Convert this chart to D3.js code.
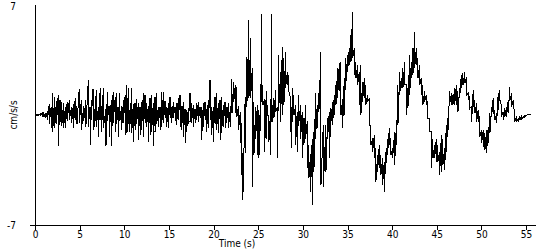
<!DOCTYPE html>
<html>
<head>
<meta charset="utf-8">
<script src="https://cdn.jsdelivr.net/npm/d3@7"></script>
<style>
  body { margin: 0; background: #fff; }
  svg { display: block; }
  text { font-family: "DejaVu Sans Condensed", "DejaVu Sans", sans-serif; font-size: 10px; fill: #000; }
  .trace { fill: none; stroke: #000; stroke-width: 1; shape-rendering: crispEdges; }
  .axis-line { stroke: #000; stroke-width: 1; shape-rendering: crispEdges; }
</style>
</head>
<body>
<svg></svg>
<script>
// trace: [time (s), upper swing, lower swing] in cm/s/s
var preEvent = [
  [0.0, 0, 0], [0.2, 0.02, -0.02], [0.4, 0.03, -0.03], [0.6, 0.05, -0.05], [0.8, 0.1, -0.1],
  [1.0, 0.2, -0.15], [1.2, 0.15, -0.2], [1.4, 0.25, -0.3], [1.6, 0.7, -0.57], [1.8, 0.5, -0.8],
  [1.98, 1.38, -1.06], [2.2, 1.17, -0.85], [2.4, 0.9, -0.6], [2.6, 1.27, -2.0], [2.8, 0.95, -0.42],
  [3.0, 0.8, -0.7], [3.2, 0.74, -0.85], [3.4, 0.5, -0.85], [3.6, 0.85, -0.4], [3.84, 0.95, -0.3],
  [4.1, 0.5, -0.53], [4.3, 0.7, -0.85], [4.5, 1.06, -0.32], [4.7, 0.6, -0.6], [4.95, 1.65, -0.53],
  [5.2, 0.95, -0.96], [5.45, 0.6, -0.4], [5.7, 0.95, -0.74], [5.97, 2.23, -0.74], [6.16, 0.5, -1.91],
  [6.3, 0.95, -0.3], [6.5, 1.67, -0.96], [6.7, 0.4, -0.74], [6.86, 1.59, -0.74], [7.1, 0.5, -1.38],
  [7.3, 1.7, -0.3], [7.45, 0.6, -1.06], [7.65, 1.7, -0.85], [7.95, 0.4, -2.0], [8.1, 1.49, -0.4],
  [8.3, 0.6, -1.38], [8.55, 0.95, -2.0], [8.75, 1.49, -0.5], [9.0, 1.17, -1.06], [9.15, 1.38, -0.6],
  [9.3, 0.5, -1.38], [9.5, 1.38, -0.4], [9.7, 0.6, -0.96], [9.9, 0.95, -0.5], [10.1, 1.27, -1.27],
  [10.3, 1.91, -1.17], [10.45, 1.7, -0.6], [10.6, 0.3, -1.06]
];

var pWaves = [
  [10.83, 1.7, -1.17], [11.01, 0.7, -1.7], [11.2, 0.74, -0.96], [11.38, 1.0, -0.6], [11.57, 0.74, -1.59],
  [11.76, 0.53, -1.27], [11.94, 0.8, -0.96], [12.13, 1.38, -1.38], [12.32, 1.27, -0.5], [12.5, 0.74, -0.74],
  [12.69, 0.6, -1.7], [12.88, 1.06, -1.27], [13.06, 1.27, -1.06], [13.25, 0.74, -2.0], [13.44, 1.17, -1.06],
  [13.63, 1.38, -0.6], [13.81, 0.5, -0.74], [14.0, 0.53, -0.96], [14.19, 1.49, -0.74], [14.38, 1.49, -0.53],
  [14.56, 0.9, -0.21], [14.75, 0.53, -0.74], [14.93, 0.74, -0.85], [15.12, 1.17, -0.21], [15.3, 0.53, -0.53],
  [15.49, 0.8, -0.21], [15.68, 0.53, -0.4], [15.86, 0.74, -0.64], [16.05, 1.06, -0.32], [16.24, 1.27, -0.74],
  [16.42, 0.6, -0.96], [16.61, 0.85, -1.38], [16.8, 0.4, -1.8], [16.98, 0.32, -1.06], [17.17, 0.42, -0.6],
  [17.36, 1.38, -0.42], [17.54, 0.74, -0.5], [17.73, 0.64, -0.74], [17.92, 0.4, -0.53], [18.1, 0.74, -0.32],
  [18.29, 0.85, -0.42], [18.48, 0.5, -0.21], [18.66, 0.53, -1.59], [18.85, 0.74, -0.74], [19.04, 0.85, -0.3],
  [19.22, 0.4, -1.06], [19.41, 0.96, -0.85], [19.6, 2.23, -0.32], [19.78, 0.5, -1.27], [19.97, 0.53, -1.7],
  [20.16, 1.17, -0.6], [20.34, 1.38, -0.96], [20.53, 0.74, -1.17], [20.72, 0.96, -1.59], [20.9, 1.17, -1.17],
  [21.09, 0.64, -0.74], [21.28, 0.85, -0.85], [21.46, 0.53, -0.5], [21.65, 0.74, -0.85], [21.87, 0.32, -0.74]
];

var strongMotion = [
  [22.06, 2.27, 0.1], [22.25, 2.12, 0.8], [22.43, 1.91, 0.1], [22.62, 1.8, -0.1], [22.8, 0.6, -0.96],
  [22.99, 0.2, -1.8], [23.17, -0.5, -3.8], [23.28, -2.4, -5.4], [23.54, 1.17, -2.4], [23.73, 3.7, 0.5],
  [23.96, 6.05, 1.06], [24.15, 4.9, 1.06], [24.34, 3.0, -4.56], [24.52, 0.85, -2.55], [24.71, 0.5, -1.5],
  [24.9, 0.64, -2.55], [25.08, 0.3, -2.76], [25.27, 1.5, -1.0], [25.38, 6.4, 0.85], [25.53, 1.91, 0.64],
  [25.72, 1.0, -2.34], [25.9, 1.5, -1.5], [26.0, 0.64, 0], [26.2, 0, -1.7], [26.39, 0.4, -2.55],
  [26.5, 6.4, -0.42], [26.57, 0.64, -0.42], [26.76, 1.06, -0.2], [26.95, 1.59, 0.2], [27.13, 0.5, -2.76],
  [27.32, 3.82, 0.64], [27.51, 2.76, -0.42], [27.7, 4.35, 0], [27.88, 3.6, 0.64], [28.07, 4.0, 1.7],
  [28.26, 2.76, 1.91], [28.44, 2.55, 1.5], [28.63, 1.06, -1.06], [28.74, 0.5, -2.12], [28.81, 1.7, -0.42],
  [29.0, 1.27, 0], [29.19, 0.64, -1.91], [29.37, 0.2, -2.34], [29.56, 1.27, -0.42], [29.75, 0.64, -1.5],
  [29.93, 0.2, -2.76], [30.12, -0.2, -1.91], [30.3, 0.64, -1.5], [30.49, -0.4, -3.4], [30.68, -1.91, -4.03],
  [30.86, -2.5, -4.88], [31.05, -1.5, -5.73], [31.24, -1.06, -3.6], [31.42, 1.38, -1.5], [31.61, 0.64, -0.85],
  [31.8, 1.38, 0.2], [32.03, 4.03, -4.46], [32.29, -0.64, -4.6], [32.59, -0.64, -3.6], [32.77, -0.2, -1.5],
  [32.96, 0.2, -2.76], [33.15, 0.42, -0.42], [33.33, 0.85, -0.64], [33.52, 1.27, 0], [33.71, 1.91, 0.64],
  [33.89, 2.97, 1.06], [34.08, 3.29, 1.5], [34.27, 3.4, 0], [34.45, 1.0, -0.85], [34.64, 2.34, 0],
  [34.83, 3.6, 2.12], [35.01, 3.82, 2.76], [35.2, 4.25, 3.18], [35.39, 5.1, 3.4], [35.57, 6.58, 3.6],
  [35.76, 4.25, 2.55], [35.95, 3.4, 2.34], [36.13, 3.18, 1.91], [36.32, 2.76, 0.64], [36.5, 3.18, 0],
  [36.69, 2.12, 0.85], [36.88, 2.34, 1.06], [37.06, 1.91, 0.64], [37.25, 1.27, 0.85], [37.44, 1.06, -0.64],
  [37.62, -0.64, -1.91], [37.81, -1.5, -2.34], [38.0, -1.27, -2.76], [38.18, -2.12, -4.25], [38.37, -2.55, -3.6],
  [38.56, -1.91, -3.4], [38.74, -2.55, -3.82], [38.93, -2.76, -4.46], [39.12, -2.97, -4.88], [39.3, -2.34, -3.18],
  [39.49, -1.5, -2.55], [39.68, -0.85, -1.91], [39.86, -1.5, -2.55]
];

var coda = [
  [40.05, -2.12, -2.76], [40.28, -1.06, -3.18], [40.47, -0.64, -1.91], [40.65, 1.91, -0.64], [40.84, 2.76, 1.27],
  [41.03, 2.34, 1.7], [41.21, 2.97, 1.7], [41.4, 3.4, 1.91], [41.59, 1.91, 0], [41.77, 1.7, 0.42],
  [41.96, 3.82, 1.27], [42.15, 3.4, 2.34], [42.33, 4.25, 2.55], [42.52, 5.31, 2.97], [42.71, 4.25, 3.18],
  [42.89, 3.6, 2.34], [43.08, 3.18, 1.91], [43.27, 2.34, 1.27], [43.45, 1.91, 0.64], [43.64, 1.5, 0.85],
  [43.83, 1.27, 0.64], [44.01, 0.85, -0.2], [44.2, -0.2, -1.06], [44.39, -1.06, -3.4], [44.57, -1.5, -2.76],
  [44.76, -1.91, -2.76], [44.95, -1.5, -2.97], [45.13, -1.91, -2.97], [45.32, -2.34, -3.82], [45.51, -1.27, -3.6],
  [45.69, -1.5, -3.18], [45.88, -2.12, -3.5], [46.07, -0.64, -2.34], [46.25, -0.2, -1.06], [46.44, 1.5, 0.64],
  [46.63, 1.38, 0.64], [46.81, 1.27, 0.64], [47.0, 1.7, 0.64], [47.19, 1.91, 0.64], [47.37, 1.5, 0.2],
  [47.56, 1.7, 1.06], [47.75, 2.55, 1.7], [47.93, 2.65, 1.91], [48.15, 2.76, 2.02], [48.34, 2.44, 1.27],
  [48.52, 1.38, 0.96], [48.71, 1.17, 0.42], [48.9, 0.53, -0.42], [49.08, 1.59, 0.53], [49.27, 0.96, 0.1],
  [49.46, 0.74, -0.42], [49.64, 0.32, -0.42], [49.83, -0.1, -1.38], [50.02, -0.96, -1.8], [50.2, -0.96, -2.02],
  [50.39, -1.17, -2.23], [50.58, -0.96, -2.44], [50.76, -0.74, -1.8], [50.95, 0.1, -1.17], [51.14, 0.53, -0.1],
  [51.32, 1.06, 0.1], [51.51, 0.32, -0.32], [51.7, 0.1, -0.53], [51.88, 1.38, 0.32], [52.07, 1.59, 0.96],
  [52.26, 0.53, -0.1], [52.44, 0.21, -0.32], [52.63, 0.42, -0.1], [52.82, 0.53, -0.1], [53.0, 0.96, 0.1],
  [53.19, 1.8, 0.96], [53.38, 1.38, 0.53], [53.57, 0.96, 0.42], [53.75, 0.32, -0.42], [53.94, -0.1, -0.42],
  [54.13, -0.21, -0.42], [54.31, -0.1, -0.32], [54.5, 0, -0.32], [54.69, -0.1, -0.21], [54.87, 0, -0.1],
  [55.2, 0.06, 0.04], [55.6, 0.06, 0.06]
];

var xTicks = [0, 5, 10, 15, 20, 25, 30, 35, 40, 45, 50, 55];
var yLabels = [7, -7];
var xTitle = "Time (s)";
var yTitle = "cm/s/s";

// configure size and padding
var config = {
  w: 550,
  h: 250,
  left: 35,
  right: 535,
  top: 5,
  bottom: 225
};

var scales = {};
scales.x = d3.scaleLinear().domain([0, 56]).range([config.left, config.right]);
scales.y = d3.scaleLinear().domain([-7, 7]).range([config.bottom, config.top]);

var svg = d3.select("svg")
  .attr("width", config.w)
  .attr("height", config.h);

// each reading becomes a vertical stroke from the upper to the lower swing
var rows = preEvent.concat(pWaves, strongMotion, coda);
var pts = [];
rows.forEach(function(r) {
  pts.push([r[0], r[1]]);
  pts.push([r[0], r[2]]);
});

var line = d3.line()
  .x(function(d) { return scales.x(d[0]); })
  .y(function(d) { return scales.y(d[1]); });

svg.append("path")
  .attr("class", "trace")
  .attr("d", line(pts));

// x axis
var xAxis = d3.axisBottom(scales.x)
  .tickValues(xTicks)
  .tickSize(5)
  .tickPadding(1)
  .tickFormat(d3.format("d"));

var gx = svg.append("g")
  .attr("transform", "translate(0," + config.bottom + ")")
  .call(xAxis);
gx.select(".domain").remove();
gx.selectAll(".tick line").attr("stroke", "#000").style("shape-rendering", "crispEdges");
gx.selectAll(".tick text")
  .attr("font-family", null)
  .attr("font-size", null);

svg.append("line")
  .attr("class", "axis-line")
  .attr("x1", config.left - 5)
  .attr("x2", scales.x(56) + 1)
  .attr("y1", config.bottom + 0.5)
  .attr("y2", config.bottom + 0.5);

// y axis: a bare line with the two limit labels
svg.append("line")
  .attr("class", "axis-line")
  .attr("x1", config.left + 0.5)
  .attr("x2", config.left + 0.5)
  .attr("y1", scales.y(7))
  .attr("y2", scales.y(-7));

svg.selectAll("text.ylab")
  .data(yLabels)
  .enter()
  .append("text")
  .attr("class", "ylab")
  .attr("x", 16)
  .attr("y", function(d) { return scales.y(d) + (d > 0 ? 5 : 4); })
  .attr("text-anchor", "end")
  .text(function(d) { return d; });

svg.append("text")
  .attr("x", 237)
  .attr("y", 247)
  .attr("text-anchor", "middle")
  .text(xTitle);

svg.append("text")
  .attr("transform", "translate(17," + scales.y(0) + ") rotate(-90)")
  .attr("text-anchor", "middle")
  .text(yTitle);
</script>
</body>
</html>
